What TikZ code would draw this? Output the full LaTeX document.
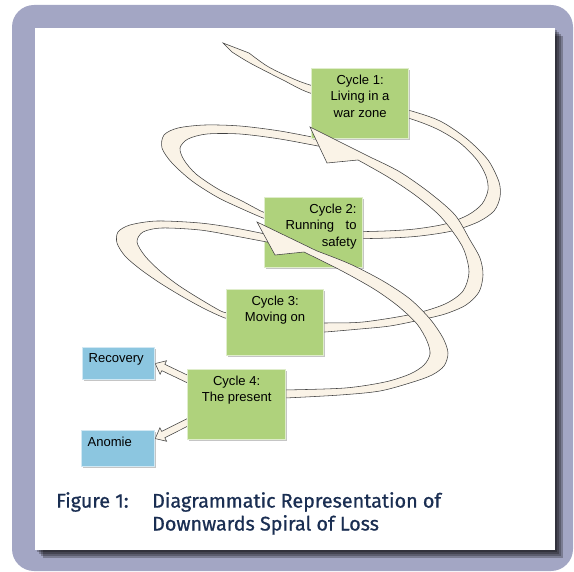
\documentclass[tikz,border=0pt]{standalone}
\usepackage{fontspec}
\setmainfont{Liberation Sans}
\newfontfamily\capfont[FakeBold=0.8]{Fira Sans}
\usetikzlibrary{calc,shadows}

\definecolor{framegrey}{RGB}{163,166,196}
\definecolor{boxgreen}{RGB}{175,210,124}
\definecolor{boxblue}{RGB}{140,198,224}
\definecolor{cream}{RGB}{250,243,231}
\definecolor{capnavy}{RGB}{26,46,82}

\pgfdeclarelayer{under}
\pgfsetlayers{under,main}

\tikzset{
	ribbon/.style={fill=cream, draw=black!75, line width=0.55bp},
	plainbox/.style={anchor=north west, fill=#1, draw=white!60!#1, line width=1.2bp, inner sep=6bp,
		drop shadow={shadow xshift=1.5bp, shadow yshift=-1.5bp, fill=black!45, opacity=0.5},
		font=\fontsize{13.1}{17}\selectfont},
	cyclebox/.style={plainbox=boxgreen},
	endbox/.style={plainbox=boxblue},
	captext/.style={anchor=north west, inner sep=0pt, text=capnavy, align=left,
		font=\capfont\fontsize{19.8}{23}\selectfont}
}

\newcommand\boxtext[3]{\parbox[t][#1][t]{#2}{#3}}
\newcommand\fatarrow[2]{%
	\coordinate (hb) at ($(#2)!9bp!(#1)$);
	\filldraw[ribbon] ($(#1)!3.5bp!90:(#2)$) -- ($(hb)!3.5bp!90:(#2)$) -- ($(hb)!7.5bp!90:(#2)$)
		-- (#2) -- ($(hb)!7.5bp!-90:(#2)$) -- ($(hb)!3.5bp!-90:(#2)$) -- ($(#1)!3.5bp!-90:(#2)$) -- cycle;
}

\begin{document}
\begin{tikzpicture}[x=1bp,y=-1bp]
	\useasboundingbox (0,0) rectangle (574,572);
	\begin{pgfonlayer}{under}
		\fill[framegrey, rounded corners=22bp] (12,5) rectangle (573,571);
		\foreach \s in {2,4,6,8}
			\fill[black, opacity=0.25] (35+\s,28+\s) rectangle (555+\s,550+\s);
		\fill[white] (35,28) rectangle (555,550);
	\end{pgfonlayer}

	% first turn: tail, behind cycle 1, round to cycle 2
	\filldraw[ribbon] (223,43) -- plot[smooth] coordinates {(249,53) (267,66) (287,76) (310,85) (360,98) (408,110) (440,121) (467,139) (488,160) (499,182) (500,197) (494,211) (478,222) (452,231) (420,236) (390,238) (345,239)}
		-- plot[smooth] coordinates {(345,232) (385,231) (415,229) (445,224) (468,215) (482,204) (488,190) (486,176) (477,160) (460,143) (437,129) (408,118) (360,106) (310,93) (283,80) (250,63) (232,52)} -- cycle;
	\filldraw[ribbon] plot[smooth] coordinates {(275,222) (263,218) (240,208) (217,197) (192,181) (172,163) (162,148) (164,135) (178,128) (205,125) (240,126) (280,131) (322,139)}
		-- plot[smooth] coordinates {(323,147) (280,139) (240,134) (207,134) (188,139) (180,148) (184,160) (196,174) (218,189) (242,201) (263,212) (275,215)} -- cycle;

	\node[cyclebox] (c1) at (311,68) {\boxtext{58bp}{85bp}{\centering Cycle 1:\\Living in a\\war zone}};
	\node[cyclebox] (c2) at (264,197) {\boxtext{58bp}{86bp}{\raggedleft Cycle 2:\\\makebox[71bp][s]{Running to}\\safety}};

	% second turn, from the head under cycle 1
	\filldraw[ribbon] (310,127) -- plot[smooth] coordinates {(372,158) (400,172) (430,193) (455,215) (470,240) (480,258) (483,275) (479,292) (466,305) (445,314) (420,320) (390,326) (360,329) (325,332) (315,332)}
		-- plot[smooth] coordinates {(315,323) (325,323) (363,322) (413,314) (445,304) (463,291) (469,272) (464,250) (453,232) (438,214) (415,195) (388,177) (358,160)} -- (327,163) -- cycle;
	\filldraw[ribbon] plot[smooth] coordinates {(235,319) (225,318) (205,309) (183,297) (160,283) (140,269) (125,256) (117,243) (118,232) (130,225) (157,221) (200,223) (235,228) (270,235)}
		-- plot[smooth] coordinates {(272,243) (235,236) (200,230) (162,228) (143,232) (137,242) (145,256) (160,271) (178,285) (200,299) (223,312) (235,313)} -- cycle;
	% last turn, from the head on cycle 2
	\filldraw[ribbon] (257,222) -- plot[smooth] coordinates {(317,251) (350,264) (383,281) (410,299) (430,319) (443,338) (448,353) (444,366) (432,375) (413,382) (380,391) (340,395) (285,398) (275,398)}
		-- plot[smooth] coordinates {(275,390) (285,390) (345,388) (385,382) (410,374) (424,365) (430,354) (427,341) (417,324) (398,306) (374,289) (342,271) (304,252)} -- (275,255) -- cycle;

	\node[cyclebox] (c3) at (226,289) {\boxtext{54bp}{85bp}{\centering Cycle 3:\\Moving on}};
	\node[cyclebox] (c4) at (187,369) {\boxtext{58bp}{86bp}{\centering Cycle 4:\\The present}};
	\node[endbox] (rec) at (82,347) {\boxtext{20bp}{60bp}{Recovery}};
	\node[endbox] (ano) at (81,430) {\boxtext{24bp}{61bp}{Anomie}};

	\coordinate (r0) at ([xshift=8bp,yshift=22bp]c4.west);
	\coordinate (a0) at ([xshift=8bp,yshift=-14bp]c4.west);
	\coordinate (a1) at ([yshift=10bp]ano.east);
	\begin{pgfonlayer}{under}
		\fatarrow{r0}{rec.east}
		\fatarrow{a0}{a1}
	\end{pgfonlayer}

	\node[captext] (fig) at (56,492) {Figure 1:};
	\node[captext] (cap) at (152,492) {Diagrammatic Representation of\\Downwards Spiral of Loss};
\end{tikzpicture}
\end{document}
